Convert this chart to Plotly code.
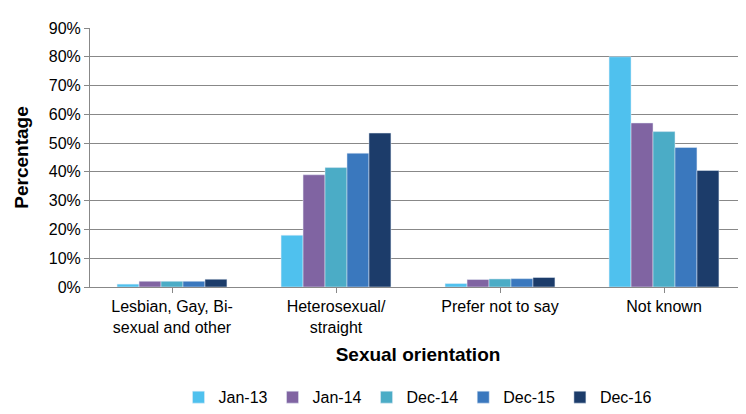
import plotly.graph_objects as go

categories = ["Lesbian, Gay, Bi-<br>sexual and other", "Heterosexual/<br>straight", "Prefer not to say", "Not known"]
series_names = ["Jan-13", "Jan-14", "Dec-14", "Dec-15", "Dec-16"]
values = {
    "Jan-13": [1.0, 18.0, 1.2, 80.0],
    "Jan-14": [2.0, 39.0, 2.6, 57.0],
    "Dec-14": [2.0, 41.5, 2.8, 54.0],
    "Dec-15": [2.0, 46.5, 2.9, 48.5],
    "Dec-16": [2.7, 53.5, 3.3, 40.5],
}
colors = ["#4FC1EE", "#8064A2", "#4BACC6", "#3A78BE", "#1C3C6A"]

fig = go.Figure()
for name, c in zip(series_names, colors):
    fig.add_trace(go.Bar(x=categories, y=[v / 100 for v in values[name]], name=name, marker_color=c))

fig.update_layout(
    width=746, height=414, barmode="group", bargap=0.33, bargroupgap=0,
    plot_bgcolor="white", paper_bgcolor="white",
    font=dict(family="Liberation Sans, Arial", size=16, color="#000"),
    margin=dict(l=82, r=8, t=20, b=126),
    legend=dict(orientation="h", x=0.5, xanchor="center", y=-0.36, yanchor="top", font=dict(size=16), itemwidth=30),
    xaxis=dict(title=dict(text="<b>Sexual orientation</b>", font=dict(size=19), standoff=12),
               showline=True, linecolor="#888", ticks="outside", tickcolor="#888"),
    yaxis=dict(title=dict(text="<b>Percentage</b>", font=dict(size=19)), range=[0, 0.9], dtick=0.1,
               tickformat=".0%", showgrid=True, gridcolor="#888", showline=True, linecolor="#888",
               ticks="outside", tickcolor="#888", zeroline=False),
)
fig.write_html("out.html")
